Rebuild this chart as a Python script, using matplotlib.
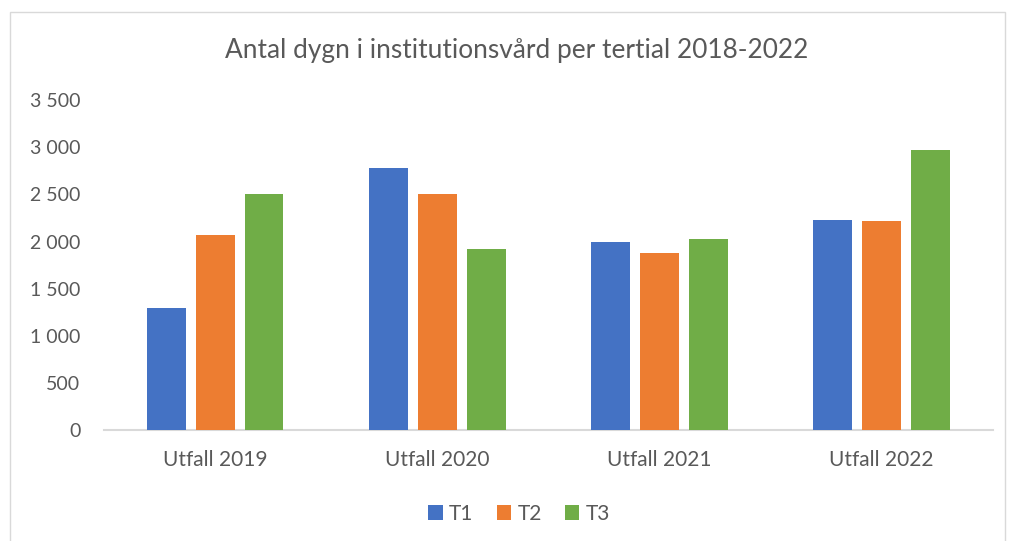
import matplotlib
matplotlib.use("Agg")
import matplotlib.pyplot as plt
import numpy as np
from matplotlib.patches import Rectangle

categories = ["Utfall 2019", "Utfall 2020", "Utfall 2021", "Utfall 2022"]
series_names = ["T1", "T2", "T3"]
t1 = [1290, 2776, 1994, 2228]
t2 = [2069, 2500, 1881, 2217]
t3 = [2503, 1920, 2023, 2967]
yticks = [0, 500, 1000, 1500, 2000, 2500, 3000, 3500]
ytick_labels = ["0", "500", "1 000", "1 500", "2 000", "2 500", "3 000", "3 500"]
title = "Antal dygn i institutionsvård per tertial 2018-2022"

colors = ["#4472C4", "#ED7D31", "#70AD47"]
text_color = "#595959"
plt.rcParams['font.family'] = ['Lato', 'DejaVu Sans']

fig = plt.figure(figsize=(10.10, 5.41), dpi=100)
ax = fig.add_axes([0.103, 0.205, 0.880, 0.610])

x = np.arange(len(categories))
bw = 0.175
step = 0.22
for i, (vals, name) in enumerate(zip([t1, t2, t3], series_names)):
    ax.bar(x + (i - 1) * step, vals, width=bw, color=colors[i], label=name, zorder=3)

ax.set_xlim(-0.5, len(categories) - 0.5)
ax.set_ylim(0, 3500)
ax.set_yticks(yticks)
ax.set_yticklabels(ytick_labels)
ax.set_xticks(x)
ax.set_xticklabels(categories)
ax.tick_params(axis='both', length=0, colors=text_color)
ax.tick_params(axis='y', pad=17, labelsize=14)
ax.tick_params(axis='x', pad=14, labelsize=15)
for s in ["top", "right", "left"]:
    ax.spines[s].set_visible(False)
ax.spines["bottom"].set_color("#D9D9D9")
ax.spines["bottom"].set_linewidth(1.5)

fig.text(0.512, 0.907, title, ha="center", va="center", fontsize=18.9, color=text_color)

leg = fig.legend(loc="center", bbox_to_anchor=(0.514, 0.05), ncol=3, frameon=False,
                 fontsize=15, handlelength=0.7, handleheight=0.7, handletextpad=0.3,
                 columnspacing=1.1, labelcolor=text_color)

fig.patches.append(Rectangle((10 / 1010, -0.01), 995 / 1010, 1 - 12 / 541 + 0.01,
                             transform=fig.transFigure, fill=False,
                             edgecolor="#D9D9D9", linewidth=1))

fig.savefig("out.png", dpi=100, facecolor="white")
